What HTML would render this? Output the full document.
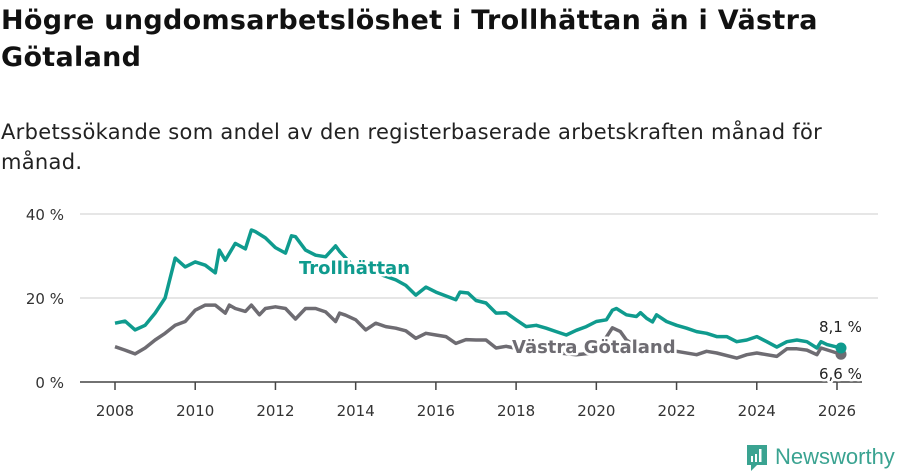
<!DOCTYPE html>
<html><head><meta charset="utf-8"><style>
body{margin:0;background:#fff;width:900px;height:474px;overflow:hidden;font-family:"DejaVu Sans",sans-serif;}
h1{position:absolute;left:1px;top:2px;margin:0;font-size:27px;line-height:37px;font-weight:bold;color:#111;width:895px;letter-spacing:0.3px;font-family:"DejaVu Sans",sans-serif;}
.sub{position:absolute;left:1px;top:117px;margin:0;font-size:21px;line-height:30px;color:#222;width:895px;letter-spacing:0.3px;font-family:"DejaVu Sans",sans-serif;}
svg{position:absolute;left:0;top:0;}
</style></head><body>
<h1>Högre ungdomsarbetslöshet i Trollhättan än i Västra<br>Götaland</h1>
<p class="sub">Arbetssökande som andel av den registerbaserade arbetskraften månad för<br>månad.</p>
<svg id="chart" width="900" height="474"></svg>
<script>
const yTicks=[0,20,40];
const yTickLabels=["0 %","20 %","40 %"];
const xTicks=[2008,2010,2012,2014,2016,2018,2020,2022,2024,2026];
const trollDates=[2008,2008.25,2008.5,2008.75,2009,2009.25,2009.5,2009.75,2010,2010.25,2010.5,2010.6,2010.75,2011,2011.25,2011.4,2011.5,2011.75,2012,2012.25,2012.4,2012.5,2012.75,2013,2013.25,2013.5,2013.6,2014,2014.5,2015,2015.25,2015.5,2015.75,2016,2016.5,2016.6,2016.8,2017,2017.25,2017.5,2017.75,2018,2018.25,2018.5,2018.75,2019,2019.25,2019.5,2019.75,2020,2020.25,2020.4,2020.5,2020.75,2021,2021.1,2021.25,2021.4,2021.5,2021.75,2022,2022.25,2022.5,2022.75,2023,2023.25,2023.5,2023.75,2024,2024.25,2024.5,2024.75,2025,2025.25,2025.5,2025.6,2025.75,2026,2026.1];
const trollValues=[14.0,14.5,12.4,13.5,16.4,20,29.5,27.4,28.6,27.8,26,31.4,29,33,31.7,36.2,35.8,34.3,32,30.7,34.8,34.6,31.4,30.2,29.8,32.4,31.1,27,26,24.3,23,20.7,22.6,21.4,19.6,21.4,21.2,19.4,18.8,16.4,16.5,14.8,13.2,13.5,12.8,12.0,11.2,12.3,13.2,14.4,14.8,17.1,17.5,16,15.6,16.5,15.2,14.3,16,14.4,13.5,12.8,12,11.6,10.8,10.8,9.6,10,10.8,9.6,8.3,9.6,10,9.6,8.1,9.6,8.9,8.3,8.1];
const vgDates=[2008,2008.25,2008.5,2008.75,2009,2009.25,2009.5,2009.75,2010,2010.25,2010.5,2010.75,2010.85,2011,2011.25,2011.4,2011.6,2011.75,2012,2012.25,2012.5,2012.75,2013,2013.25,2013.5,2013.6,2013.75,2014,2014.25,2014.5,2014.75,2015,2015.25,2015.5,2015.75,2016,2016.25,2016.5,2016.75,2017,2017.25,2017.5,2017.75,2018,2018.5,2019,2019.5,2020,2020.4,2020.6,2020.75,2021,2021.25,2021.5,2021.75,2022,2022.5,2022.75,2023,2023.5,2023.75,2024,2024.5,2024.75,2025,2025.25,2025.5,2025.6,2026,2026.1];
const vgValues=[8.4,7.6,6.7,8.1,10,11.6,13.5,14.4,17.1,18.3,18.3,16.4,18.3,17.5,16.8,18.3,16,17.5,17.9,17.5,15,17.5,17.5,16.7,14.4,16.4,15.9,14.8,12.4,14,13.2,12.8,12.2,10.4,11.6,11.2,10.8,9.2,10.1,10,10,8.1,8.5,8,7.5,7,6.5,7,12.9,12,10,8.5,8,7.6,7.5,7.3,6.5,7.3,6.9,5.7,6.5,6.9,6.1,7.9,7.9,7.6,6.5,8.1,6.9,6.6];
const NS="http://www.w3.org/2000/svg";
const svg=document.getElementById('chart');
const X=v=>115+(v-2008)*(837-115)/18;
const Y=v=>382-v*4.2;
function mk(t,a,txt){const e=document.createElementNS(NS,t);for(const k in a)e.setAttribute(k,a[k]);if(txt!==undefined)e.textContent=txt;svg.appendChild(e);return e;}
yTicks.forEach((t,i)=>{
 if(t>0){const g=mk('line',{x1:80,x2:878,y1:Y(t),y2:Y(t),stroke:'#ddd','stroke-width':1.5});
 
 }
 const l=mk('text',{x:64,y:Y(t)+6,'text-anchor':'end','font-size':15,fill:'#333','font-family':'DejaVu Sans, sans-serif'},yTickLabels[i]);
 
 
});
const ax=mk('line',{x1:80,x2:862,y1:382,y2:382,stroke:'#444','stroke-width':1.5});


xTicks.forEach(t=>{
 const tk=mk('line',{x1:X(t),x2:X(t),y1:382,y2:390,stroke:'#444','stroke-width':1.5});
 
 
 const l=mk('text',{x:X(t),y:416,'text-anchor':'middle','font-size':15,fill:'#333','font-family':'DejaVu Sans, sans-serif'},String(t));
 
 
});
function line(d,v,c,name){
 const p=mk('path',{d:d.map((x,i)=>(i?'L':'M')+X(x).toFixed(1)+','+Y(v[i]).toFixed(1)).join(''),fill:'none',stroke:c,'stroke-width':3.5,'stroke-linejoin':'round'});
 
 
 const n=d.length-1;
 const dot=mk('circle',{cx:X(d[n]),cy:Y(v[n]),r:5.5,fill:c});
 
 
}
line(vgDates,vgValues,'#6e6c72','vastra-gotaland');
line(trollDates,trollValues,'#0f9b8e','trollhattan');
function lab(x,y,t,c,name,sz,bold,halo){
 const e=mk('text',{x:x,y:y,'font-size':sz,'font-weight':bold?'bold':'normal',fill:c,stroke:halo?'#fff':'none','stroke-width':halo?5:0,'paint-order':'stroke','stroke-linejoin':'round','font-family':'DejaVu Sans, sans-serif'},t);
 
 
}
lab(299,274,'Trollhättan','#0f9b8e','trollhattan-label',18,true,true);
lab(512,353,'Västra Götaland','#6e6c72','vastra-gotaland-label',18,true,true);
lab(819,332,'8,1 %','#222','trollhattan-end-value',15,false,true);
lab(819,379,'6,6 %','#222','vastra-gotaland-end-value',15,false,true);
</script>
<div style="position:absolute;left:745px;top:444px;width:150px;height:30px;">
<svg width="24" height="30" style="position:absolute;left:0;top:0"><path d="M2 1h20v20H12l-6 6v-6H2z" fill="#3aa391"/><rect x="6" y="12" width="2" height="6" fill="#fff"/><rect x="10" y="10" width="2" height="8" fill="#fff"/><rect x="14" y="5" width="2.5" height="13" fill="#fff"/></svg>
<span style="position:absolute;left:30px;top:0;font-size:22px;color:#3aa391;font-family:'Liberation Sans',sans-serif;">Newsworthy</span>
</div>
</body></html>
